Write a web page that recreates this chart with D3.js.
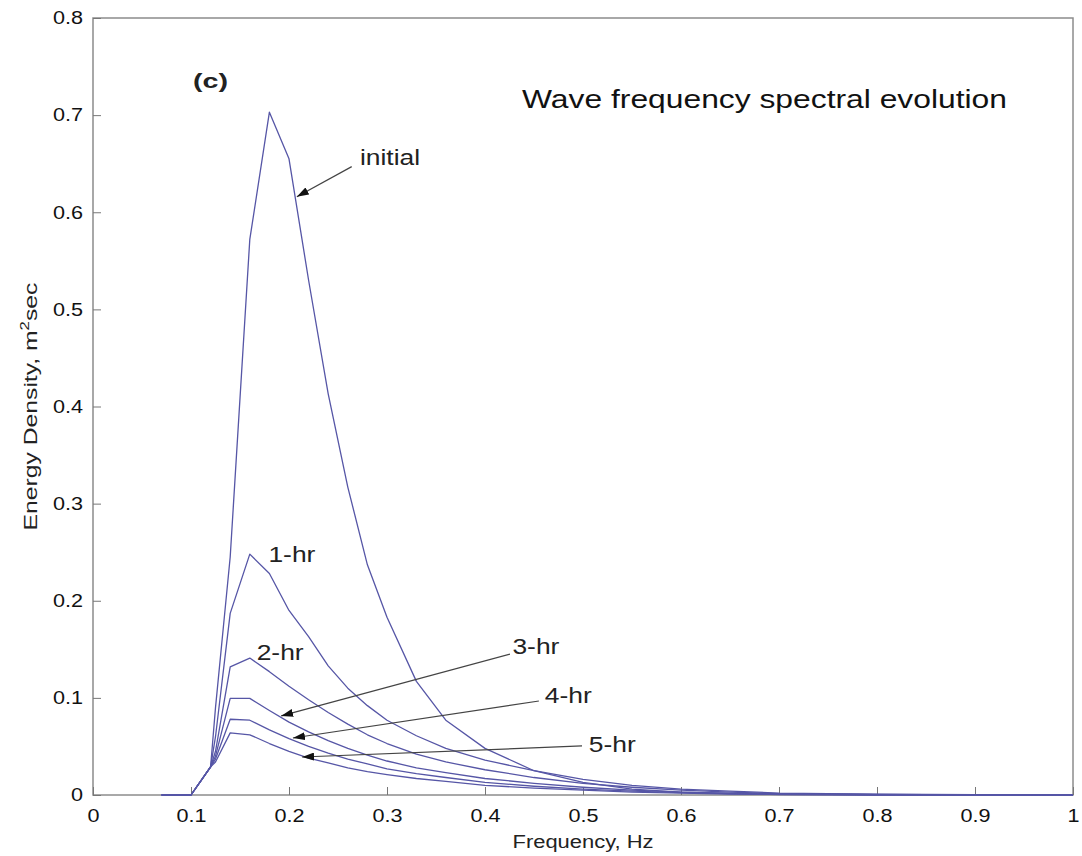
<!doctype html>
<html lang="en">
<head>
  <meta charset="utf-8">
  <title>Wave frequency spectral evolution - D3</title>
  <style>
    body { margin: 0; background: #fff; }
    svg { display: block; font-family: "Liberation Sans", Arial, sans-serif; }
  </style>
</head>
<body>
  <svg></svg>
  <script src="https://cdn.jsdelivr.net/npm/d3@7"></script>
  <script>
    const width = 1082;
    const height = 856;
    const margin = { top: 18, right: 9, bottom: 61, left: 93 };

    // frequency bins (Hz)
    const frequency = [0.07, 0.1, 0.12, 0.125, 0.14, 0.16, 0.18, 0.2, 0.22, 0.24, 0.26, 0.28, 0.3,
      0.33, 0.36, 0.4, 0.45, 0.5, 0.55, 0.6, 0.65, 0.7, 0.8, 0.9, 1.0];

    // energy density, m^2 sec
    const initial = [0, 0, 0.029, 0.09, 0.245, 0.572, 0.703, 0.655, 0.53, 0.413, 0.317, 0.237, 0.183,
      0.117, 0.077, 0.048, 0.025, 0.013, 0.006, 0.003, 0.0015, 0.0005, 0, 0, 0];
    const hr1 = [0, 0, 0.029, 0.06, 0.187, 0.248, 0.228, 0.19, 0.163, 0.133, 0.11, 0.092, 0.077,
      0.061, 0.048, 0.036, 0.025, 0.016, 0.01, 0.006, 0.004, 0.002, 0.0008, 0.0003, 0];
    const hr2 = [0, 0, 0.029, 0.045, 0.132, 0.141, 0.127, 0.112, 0.098, 0.085, 0.073, 0.062, 0.053,
      0.042, 0.034, 0.026, 0.018, 0.012, 0.008, 0.005, 0.003, 0.0015, 0.0005, 0.0002, 0];
    const hr3 = [0, 0, 0.029, 0.04, 0.0995, 0.0995, 0.087, 0.075, 0.065, 0.056, 0.048, 0.041, 0.035,
      0.028, 0.023, 0.017, 0.012, 0.008, 0.005, 0.003, 0.002, 0.001, 0.0004, 0.0001, 0];
    const hr4 = [0, 0, 0.029, 0.037, 0.078, 0.077, 0.067, 0.058, 0.05, 0.043, 0.037, 0.032, 0.027,
      0.022, 0.018, 0.013, 0.009, 0.006, 0.004, 0.0025, 0.0015, 0.0008, 0.0003, 0.0001, 0];
    const hr5 = [0, 0, 0.029, 0.034, 0.064, 0.062, 0.053, 0.045, 0.038, 0.033, 0.028, 0.024, 0.021,
      0.017, 0.014, 0.01, 0.007, 0.005, 0.003, 0.002, 0.001, 0.0006, 0.0002, 0.0001, 0];

    const series = [initial, hr1, hr2, hr3, hr4, hr5];

    const xTicks = [0, 0.1, 0.2, 0.3, 0.4, 0.5, 0.6, 0.7, 0.8, 0.9, 1];
    const yTicks = [0, 0.1, 0.2, 0.3, 0.4, 0.5, 0.6, 0.7, 0.8];

    // labels in data units: text anchor, optional arrow tail -> tip
    const labels = [
      { text: 'initial', f: 0.2724, v: 0.649, arrow: [0.264, 0.647, 0.208, 0.616] },
      { text: '1-hr', f: 0.179, v: 0.240 },
      { text: '2-hr', f: 0.167, v: 0.139 },
      { text: '3-hr', f: 0.428, v: 0.145, arrow: [0.4255, 0.145, 0.192, 0.0814] },
      { text: '4-hr', f: 0.461, v: 0.0947, arrow: [0.455, 0.0968, 0.204, 0.0587] },
      { text: '5-hr', f: 0.506, v: 0.0443, arrow: [0.499, 0.0505, 0.2133, 0.0391] }
    ];

    const svg = d3.select('svg')
      .attr('width', width)
      .attr('height', height)
      .attr('viewBox', [0, 0, width, height]);

    // the scanned lettering is wider than Arial, so widen every text a little
    function widen(sel, k) {
      sel.each(function () {
        const w = this.getComputedTextLength();
        d3.select(this).attr('textLength', w * k).attr('lengthAdjust', 'spacingAndGlyphs');
      });
    }

    const x = d3.scaleLinear().domain([0, 1]).range([margin.left, width - margin.right]);
    const y = d3.scaleLinear().domain([0, 0.8]).range([height - margin.bottom, margin.top]);

    // plot box
    svg.append('rect')
      .attr('x', x(0))
      .attr('y', y(0.8))
      .attr('width', x(1) - x(0))
      .attr('height', y(0) - y(0.8))
      .attr('fill', 'none')
      .attr('stroke', '#8c8c8c')
      .attr('stroke-width', 1.5);

    // x axis, ticks pointing inward
    svg.append('g')
      .attr('transform', 'translate(0,' + y(0) + ')')
      .call(d3.axisBottom(x).tickValues(xTicks).tickSizeInner(-8).tickSizeOuter(0).tickPadding(14)
        .tickFormat(d3.format('~g')))
      .call(g => g.select('.domain').remove())
      .call(g => g.selectAll('.tick line').attr('stroke', '#777'))
      .call(g => g.selectAll('.tick text').attr('font-size', 18).attr('fill', '#111')
        .attr('font-family', '"Liberation Sans", Arial, sans-serif').call(widen, 1.2));

    // y axis
    svg.append('g')
      .attr('transform', 'translate(' + x(0) + ',0)')
      .call(d3.axisLeft(y).tickValues(yTicks).tickSizeInner(-8).tickSizeOuter(0).tickPadding(10)
        .tickFormat(d3.format('~g')))
      .call(g => g.select('.domain').remove())
      .call(g => g.selectAll('.tick line').attr('stroke', '#777'))
      .call(g => g.selectAll('.tick text').attr('font-size', 18).attr('fill', '#111')
        .attr('font-family', '"Liberation Sans", Arial, sans-serif').call(widen, 1.2));

    // axis titles
    svg.append('text')
      .attr('x', (x(0) + x(1)) / 2)
      .attr('y', 848)
      .attr('text-anchor', 'middle')
      .attr('font-size', 18)
      .attr('fill', '#222')
      .attr('textLength', 141)
      .attr('lengthAdjust', 'spacingAndGlyphs')
      .text('Frequency, Hz');

    const yTitle = svg.append('text')
      .attr('transform', 'translate(37,' + (y(0) + y(0.8)) / 2 + ') rotate(-90)')
      .attr('text-anchor', 'middle')
      .attr('font-size', 19)
      .attr('fill', '#222');
    yTitle.append('tspan').text('Energy Density, m');
    yTitle.append('tspan').attr('font-size', 13).attr('dy', -8).text('2');
    yTitle.append('tspan').attr('dy', 8).text('sec');
    widen(yTitle, 1.3);

    // spectra
    const line = d3.line()
      .x(d => x(d[0]))
      .y(d => y(d[1]));

    svg.append('g')
      .selectAll('path')
      .data(series)
      .join('path')
      .attr('d', s => line(d3.zip(frequency, s)))
      .attr('fill', 'none')
      .attr('stroke', '#5656a6')
      .attr('stroke-width', 1.3)
      .attr('stroke-linejoin', 'round');

    // arrow head
    svg.append('defs').append('marker')
      .attr('id', 'head')
      .attr('viewBox', '0 0 12 8')
      .attr('refX', 12)
      .attr('refY', 4)
      .attr('markerWidth', 12)
      .attr('markerHeight', 8)
      .attr('markerUnits', 'userSpaceOnUse')
      .attr('orient', 'auto')
      .append('path')
      .attr('d', 'M0,0L12,4L0,8Z')
      .attr('fill', '#111');

    const notes = svg.append('g');
    notes.selectAll('line')
      .data(labels.filter(d => d.arrow))
      .join('line')
      .attr('x1', d => x(d.arrow[0]))
      .attr('y1', d => y(d.arrow[1]))
      .attr('x2', d => x(d.arrow[2]))
      .attr('y2', d => y(d.arrow[3]))
      .attr('stroke', '#444')
      .attr('stroke-width', 1.2)
      .attr('marker-end', 'url(#head)');

    notes.selectAll('text')
      .data(labels)
      .join('text')
      .attr('x', d => x(d.f))
      .attr('y', d => y(d.v))
      .attr('font-size', 22)
      .attr('fill', '#222')
      .text(d => d.text)
      .call(widen, 1.2);

    // panel tag and title
    svg.append('text')
      .attr('x', 193)
      .attr('y', 88)
      .attr('font-size', 21)
      .attr('font-weight', 'bold')
      .attr('fill', '#222')
      .attr('textLength', 35)
      .attr('lengthAdjust', 'spacingAndGlyphs')
      .text('(c)');

    svg.append('text')
      .attr('x', 522)
      .attr('y', 108)
      .attr('font-size', 26)
      .attr('fill', '#111')
      .attr('textLength', 485)
      .attr('lengthAdjust', 'spacingAndGlyphs')
      .text('Wave frequency spectral evolution');
  </script>
</body>
</html>
